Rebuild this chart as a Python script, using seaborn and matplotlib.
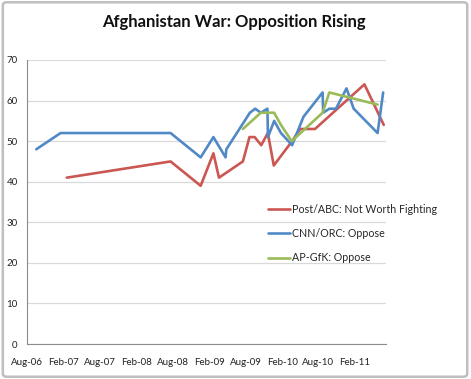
import numpy as np
import pandas as pd
import matplotlib
matplotlib.use("Agg")
import matplotlib.pyplot as plt
import matplotlib.dates as mdates
from matplotlib.patches import FancyBboxPatch
import seaborn as sns

# Post/ABC: Not Worth Fighting
post_dates = ["2007-02-15", "2008-07-20", "2008-12-18", "2009-02-20", "2009-03-20",
              "2009-07-18", "2009-08-20", "2009-09-15", "2009-10-18", "2009-11-20",
              "2009-12-20", "2010-03-22", "2010-05-01", "2010-07-15", "2011-03-20",
              "2011-06-25"]
post_vals = [41, 45, 39, 47, 41, 45, 51, 51, 49, 52, 44, 50, 53, 53, 64, 54]

# CNN/ORC: Oppose
cnn_dates = ["2006-09-15", "2007-01-15", "2008-07-20", "2008-12-18", "2009-02-20",
             "2009-04-22", "2009-04-26", "2009-08-22", "2009-09-18", "2009-10-16",
             "2009-11-18", "2009-11-21", "2009-12-22", "2010-01-25", "2010-03-22",
             "2010-05-18", "2010-08-22", "2010-08-25", "2010-09-25", "2010-10-28",
             "2010-12-20", "2011-01-25", "2011-05-25", "2011-06-22"]
cnn_vals = [48, 52, 52, 46, 51, 46, 48, 57, 58, 57, 58, 51, 55, 52, 49,
            56, 62, 57, 58, 58, 63, 58, 52, 62]

# AP-GfK: Oppose
ap_dates = ["2009-07-18", "2009-10-16", "2009-12-22", "2010-01-25", "2010-03-20",
            "2010-08-22", "2010-09-25", "2011-05-25"]
ap_vals = [53, 57, 57, 54, 50, 57, 62, 59]

series_names = ["Post/ABC: Not Worth Fighting", "CNN/ORC: Oppose", "AP-GfK: Oppose"]
colors = ["#CB5753", "#5089C6", "#9BBB59"]

frames = []
for name, d, v in zip(series_names, [post_dates, cnn_dates, ap_dates],
                      [post_vals, cnn_vals, ap_vals]):
    frames.append(pd.DataFrame({"date": pd.to_datetime(d), "value": v, "series": name}))
df = pd.concat(frames, ignore_index=True)

sns.set_style("white")
plt.rcParams["font.family"] = ["Lato", "DejaVu Sans"]

fig = plt.figure(figsize=(4.71, 3.79), dpi=100)
ax = fig.add_axes([0.058, 0.0923, 0.761, 0.7494])

sns.lineplot(data=df, x="date", y="value", hue="series", hue_order=series_names,
             palette=colors, estimator=None, linewidth=1.9, ax=ax)

ax.set_xlim(pd.Timestamp("2006-08-01"), pd.Timestamp("2011-07-05"))
ax.set_ylim(0, 70)
ax.set_yticks(range(0, 71, 10))
ax.xaxis.set_major_locator(mdates.MonthLocator(bymonth=[2, 8]))
ax.xaxis.set_major_formatter(mdates.DateFormatter("%b-%y"))
ax.yaxis.grid(True, color="#D9D9D9", linewidth=0.9)
ax.xaxis.grid(False)
for s in ["top", "right"]:
    ax.spines[s].set_visible(False)
for s in ["left", "bottom"]:
    ax.spines[s].set_color("#8C8C8C")
    ax.spines[s].set_linewidth(0.8)
ax.tick_params(axis="both", which="major", labelsize=7, colors="#8C8C8C",
               labelcolor="#222222", length=3, width=0.8, direction="out", pad=4)
ax.tick_params(axis="x", pad=7)
ax.set_xlabel("")
ax.set_ylabel("")

ax.legend(loc="upper left", bbox_to_anchor=(0.560, 0.474), bbox_transform=fig.transFigure,
          frameon=False, fontsize=7.7, handlelength=2.1, handletextpad=0.1,
          labelspacing=1.25, borderaxespad=0)

fig.text(0.497, 0.943, "Afghanistan War: Opposition Rising", ha="center", va="center",
         fontsize=12, fontweight="bold", color="#111111")

border = FancyBboxPatch((0.006, 0.006), 0.986, 0.988, boxstyle="round,pad=0,rounding_size=0.008",
                        transform=fig.transFigure, fill=False, edgecolor="#BFBFBF",
                        linewidth=1.8)
fig.patches.append(border)

fig.savefig("out.png", dpi=100)
